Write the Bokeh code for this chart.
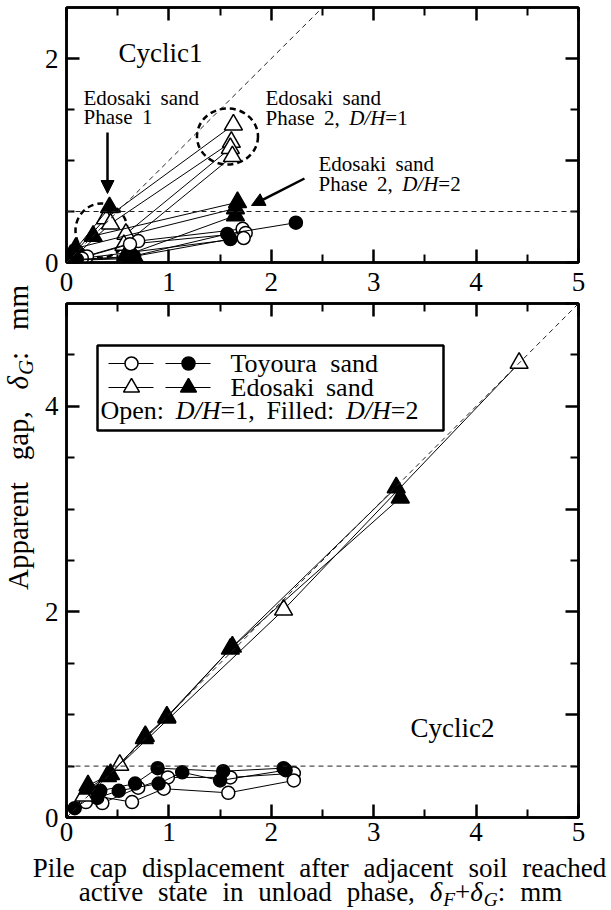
import math

from bokeh.plotting import figure
from bokeh.layouts import row, column
from bokeh.models import (Range1d, FixedTicker, LinearAxis, CustomJSTickFormatter,
                          Slope, Span, Arrow, NormalHead, BoxAnnotation, Label)
from bokeh.embed import file_html
from bokeh.resources import INLINE

# ---------------------------------------------------------------- data
# Cyclic1: one inner list per test (phase-1 points, then the phase-2 point)
c1_toyoura_d1_x = [[0.08, 0.70, 1.72], [0.20, 0.62, 1.75], [0.15, 1.73]]
c1_toyoura_d1_y = [[0.03, 0.21, 0.33], [0.06, 0.18, 0.29], [0.04, 0.24]]
c1_toyoura_d2_x = [[0.04, 0.60, 1.57, 2.24], [0.10, 0.66, 1.60]]
c1_toyoura_d2_y = [[0.02, 0.05, 0.28, 0.39], [0.03, 0.06, 0.23]]
c1_edosaki_d1_x = [[0.02, 0.38, 1.63], [0.06, 0.43, 1.61], [0.58, 1.60], [0.56, 1.62]]
c1_edosaki_d1_y = [[0.03, 0.43, 1.35], [0.04, 0.38, 1.18], [0.28, 1.12], [0.17, 1.04]]
c1_edosaki_d2_x = [[0.09, 1.65], [0.26, 1.67], [0.58, 1.65], [0.04, 0.42], [0.04, 0.67]]
c1_edosaki_d2_y = [[0.14, 0.53], [0.26, 0.59], [0.07, 0.46], [0.07, 0.54], [0.02, 0.04]]

# Cyclic2
c2_toyoura_d1_x = [[0.19, 0.35, 0.70, 0.99, 1.60, 2.22], [0.28, 0.64, 0.95, 1.58, 2.22]]
c2_toyoura_d1_y = [[0.15, 0.14, 0.29, 0.39, 0.39, 0.43], [0.21, 0.15, 0.28, 0.24, 0.36]]
c2_toyoura_d2_x = [[0.08, 0.33, 0.67, 0.89, 1.53, 2.12], [0.30, 0.51, 0.90, 1.13, 1.50, 2.14]]
c2_toyoura_d2_y = [[0.09, 0.26, 0.33, 0.48, 0.45, 0.48], [0.19, 0.26, 0.33, 0.44, 0.36, 0.46]]
c2_edosaki_d1_x = [[0.17, 0.52, 2.12, 4.42]]
c2_edosaki_d1_y = [[0.21, 0.51, 2.02, 4.42]]
c2_edosaki_d2_x = [[0.21, 0.43, 0.77, 0.98, 1.62, 3.22], [0.21, 0.40, 0.76, 0.98, 1.60, 3.26]]
c2_edosaki_d2_y = [[0.31, 0.42, 0.79, 0.98, 1.66, 3.21], [0.28, 0.40, 0.77, 0.97, 1.64, 3.11]]

x_ticks = [0, 1, 2, 3, 4, 5]
x_minor = [0.5, 1.5, 2.5, 3.5, 4.5]
y1_labels = [0, 2]
y1_minor = [0.5, 1, 1.5]
y2_labels = [0, 2, 4]
y2_minor = [0.5, 1, 1.5, 2.5, 3, 3.5, 4.5]
y2_ticks = [0, 1, 2, 3, 4, 5]
gap_limit = 0.5

# ---------------------------------------------------------------- layout
FONT = "Liberation Serif"
W_TOTAL, H_TOTAL = 611, 910
YLAB_W = 40
FL, FR = 66, 578                 # frame left / right (page px)
TOP_T, TOP_B = 7, 262            # upper panel frame
BOT_T, BOT_B = 303, 817          # lower panel frame
TOP_FIG_H = 300
BOT_FIG_H = 553
XLAB_H = H_TOTAL - TOP_FIG_H - BOT_FIG_H
XLAB_T = TOP_FIG_H + BOT_FIG_H

TICK_SIZE = 27
TEXT_SIZE = 27
NOTE_SIZE = 21
LEG_SIZE = 26


def top_xy(px, py):
    return (px - FL) / (FR - FL) * 5.0, (TOP_B - py) / (TOP_B - TOP_T) * 2.5


def bot_xy(px, py):
    return (px - FL) / (FR - FL) * 5.0, (BOT_B - py) / (BOT_B - BOT_T) * 5.0


# Times-compatible advance widths (1/1000 em)
W_REG = {' ': 250, ',': 250, ':': 278, '=': 564, '+': 564, '.': 250,
         'A': 722, 'C': 667, 'D': 722, 'E': 611, 'F': 556, 'G': 722, 'H': 722,
         'O': 722, 'P': 556, 'T': 611,
         'a': 444, 'b': 500, 'c': 444, 'd': 500, 'e': 444, 'f': 333, 'g': 500,
         'h': 500, 'i': 278, 'j': 278, 'k': 500, 'l': 278, 'm': 778, 'n': 500,
         'o': 500, 'p': 500, 'r': 333, 's': 389, 't': 278, 'u': 500, 'v': 500,
         'w': 722, 'x': 500, 'y': 500}
W_IT = {'D': 722, '/': 278, 'H': 722, 'F': 611, 'G': 722, 'δ': 500}


def text_width(s, italic):
    table = W_IT if italic else W_REG
    return sum(table.get(ch, 500) for ch in s) / 1000.0


def layout_runs(runs, size, gap):
    items, x = [], 0.0
    for txt, italic, scale, dy in runs:
        parts = txt.split(" ")
        for i, part in enumerate(parts):
            if i > 0:
                x += gap * size
            if part:
                items.append((x, part, italic, scale, dy))
                x += text_width(part, italic) * size * scale
    return items, x


def draw_rich(fig, conv, px, py, runs, size, gap=0.45, anchor="left", angle=0.0):
    """Place one line of mixed regular/italic/subscript runs; (px, py) is the
    start (or centre) of the line at mid-height, in page pixels."""
    items, total = layout_runs(runs, size, gap)
    start = -total / 2.0 if anchor == "center" else 0.0
    ca, sa = math.cos(angle), math.sin(angle)
    for off, part, italic, scale, dy in items:
        d = start + off
        sx = px + d * ca + dy * size * sa
        sy = py - d * sa + dy * size * ca
        x, y = conv(sx, sy)
        fig.add_layout(Label(x=x, y=y, text=part, angle=angle,
                             text_font=FONT, text_font_size=f"{size * scale:.1f}px",
                             text_font_style="italic" if italic else "normal",
                             text_align="left", text_baseline="middle",
                             text_color="black"))


def R(t):
    return (t, False, 1.0, 0.0)


def I(t):
    return (t, True, 1.0, 0.0)


def SUB(t):
    return (t, True, 0.72, 0.30)


blank_fmt = CustomJSTickFormatter(code="return '';")


def style_axis(ax, show_labels=True, standoff=10):
    ax.axis_line_width = 2.5
    ax.axis_line_color = "black"
    ax.major_tick_in = 13
    ax.major_tick_out = 0
    ax.minor_tick_in = 8
    ax.minor_tick_out = 0
    ax.major_tick_line_width = 2.5
    ax.minor_tick_line_width = 2
    ax.major_tick_line_color = "black"
    ax.minor_tick_line_color = "black"
    ax.major_label_text_font = FONT
    ax.major_label_text_color = "black"
    ax.major_label_text_font_size = f"{TICK_SIZE}px"
    if show_labels:
        ax.major_label_standoff = standoff
    else:
        ax.formatter = blank_fmt
        ax.major_label_standoff = 0
    ax.axis_label = None


def make_panel(height, ymax, y_labels, y_minor, y_all, border_top, border_bottom,
               x_standoff):
    p = figure(width=W_TOTAL - YLAB_W, height=height,
               x_range=Range1d(0, 5), y_range=Range1d(0, ymax),
               output_backend="svg", toolbar_location=None, tools="",
               min_border_left=FL - YLAB_W, min_border_right=W_TOTAL - FR,
               min_border_top=border_top, min_border_bottom=border_bottom)
    p.grid.visible = False
    p.outline_line_color = "black"
    p.outline_line_width = 2.5
    p.background_fill_color = "white"
    p.border_fill_color = "white"
    p.xaxis.ticker = FixedTicker(ticks=x_ticks, minor_ticks=x_minor)
    p.yaxis.ticker = FixedTicker(ticks=y_labels, minor_ticks=y_minor)
    style_axis(p.xaxis[0], True, x_standoff)
    style_axis(p.yaxis[0], True, 8)
    top_ax = LinearAxis(ticker=FixedTicker(ticks=x_ticks, minor_ticks=x_minor))
    right_ax = LinearAxis(ticker=FixedTicker(ticks=y_all, minor_ticks=[t + 0.5 for t in y_all[:-1]]))
    style_axis(top_ax, False)
    style_axis(right_ax, False)
    p.add_layout(top_ax, "above")
    p.add_layout(right_ax, "right")
    # reference lines: 1:1 line and the 0.5 mm level
    p.add_layout(Slope(gradient=1, y_intercept=0, line_color="#222222",
                       line_width=1, line_dash="5 4"))
    p.add_layout(Span(location=gap_limit, dimension="width", line_color="#222222",
                      line_width=1, line_dash="5 4"))
    return p


def draw_series(p, xs, ys, marker, filled):
    p.multi_line(xs, ys, line_color="black", line_width=1)
    flat_x = [v for s in xs for v in s]
    flat_y = [v for s in ys for v in s]
    size = 13 if marker == "circle" else 18
    p.scatter(flat_x, flat_y, marker=marker, size=size,
              fill_color="black" if filled else "white",
              line_color="black", line_width=1.5)


# ---------------------------------------------------------------- upper panel
top = make_panel(TOP_FIG_H, 2.5, y1_labels, y1_minor, [0, 1, 2],
                 TOP_T, TOP_FIG_H - TOP_B, 10)

# dashed circles around the Edosaki groups
cx1, cy1 = top_xy(101, 230)
cx2, cy2 = top_xy(227, 136)
sx = 5.0 / (FR - FL)
sy = 2.5 / (TOP_B - TOP_T)
top.ellipse(x=[cx1, cx2], y=[cy1, cy2], width=[52 * sx, 61 * sx],
            height=[54 * sy, 56 * sy], fill_color=None, line_color="black",
            line_width=2.5, line_dash="6 4")

draw_series(top, c1_edosaki_d1_x, c1_edosaki_d1_y, "triangle", False)
draw_series(top, c1_edosaki_d2_x, c1_edosaki_d2_y, "triangle", True)
draw_series(top, c1_toyoura_d1_x, c1_toyoura_d1_y, "circle", False)
draw_series(top, c1_toyoura_d2_x, c1_toyoura_d2_y, "circle", True)

ax0, ay0 = top_xy(107, 132)
ax1, ay1 = top_xy(107, 193)
top.add_layout(Arrow(end=NormalHead(size=13, fill_color="black", line_color="black"),
                     x_start=ax0, y_start=ay0, x_end=ax1, y_end=ay1,
                     line_width=2.5, line_color="black"))
bx0, by0 = top_xy(304, 178)
bx1, by1 = top_xy(251, 205)
top.add_layout(Arrow(end=NormalHead(size=13, fill_color="black", line_color="black"),
                     x_start=bx0, y_start=by0, x_end=bx1, y_end=by1,
                     line_width=2.5, line_color="black"))

draw_rich(top, top_xy, 118, 52, [R("Cyclic1")], TEXT_SIZE)
draw_rich(top, top_xy, 83, 97, [R("Edosaki sand")], NOTE_SIZE)
draw_rich(top, top_xy, 83, 116, [R("Phase 1")], NOTE_SIZE)
draw_rich(top, top_xy, 265, 97, [R("Edosaki sand")], NOTE_SIZE)
draw_rich(top, top_xy, 265, 117, [R("Phase 2, "), I("D/H"), R("=1")], NOTE_SIZE)
draw_rich(top, top_xy, 318, 163, [R("Edosaki sand")], NOTE_SIZE)
draw_rich(top, top_xy, 318, 183, [R("Phase 2, "), I("D/H"), R("=2")], NOTE_SIZE)

# ---------------------------------------------------------------- lower panel
bot = make_panel(BOT_FIG_H, 5.0, y2_labels, y2_minor, y2_ticks,
                 BOT_T - TOP_FIG_H, XLAB_T - BOT_B, 5)

# legend box
lx0, ly0 = bot_xy(97, 345)
lx1, ly1 = bot_xy(443, 430)
bot.add_layout(BoxAnnotation(left=lx0, right=lx1, top=ly0, bottom=ly1,
                             fill_color="white", fill_alpha=1.0,
                             line_color="black", line_alpha=1.0, line_width=2.5,
                             level="underlay"))

draw_series(bot, c2_toyoura_d1_x, c2_toyoura_d1_y, "circle", False)
draw_series(bot, c2_toyoura_d2_x, c2_toyoura_d2_y, "circle", True)
draw_series(bot, c2_edosaki_d1_x, c2_edosaki_d1_y, "triangle", False)
draw_series(bot, c2_edosaki_d2_x, c2_edosaki_d2_y, "triangle", True)

# legend samples
for row_py, marker, msize in ((363, "circle", 13), (387, "triangle", 16)):
    for (sx0, sx1, mpx), filled in (((108, 153, 131), False), ((165, 210, 188), True)):
        xa, ya = bot_xy(sx0, row_py)
        xb, _ = bot_xy(sx1, row_py)
        xm, _ = bot_xy(mpx, row_py)
        bot.line([xa, xb], [ya, ya], line_color="black", line_width=1)
        bot.scatter([xm], [ya], marker=marker, size=msize,
                    fill_color="black" if filled else "white",
                    line_color="black", line_width=1.5)

draw_rich(bot, bot_xy, 230, 363, [R("Toyoura sand")], LEG_SIZE)
draw_rich(bot, bot_xy, 230, 387, [R("Edosaki sand")], LEG_SIZE)
draw_rich(bot, bot_xy, 100, 410,
          [R("Open: "), I("D/H"), R("=1, Filled: "), I("D/H"), R("=2")], LEG_SIZE)
draw_rich(bot, bot_xy, 410, 727, [R("Cyclic2")], TEXT_SIZE)


# ---------------------------------------------------------------- axis titles
def blank_fig(w, h, xr, yr):
    f = figure(width=w, height=h, x_range=xr, y_range=yr, output_backend="svg",
               toolbar_location=None, tools="", x_axis_location=None,
               y_axis_location=None, min_border=0)
    f.grid.visible = False
    f.outline_line_color = None
    f.background_fill_color = "white"
    f.border_fill_color = "white"
    return f


ylab = blank_fig(YLAB_W, XLAB_T, Range1d(0, YLAB_W), Range1d(0, XLAB_T))
draw_rich(ylab, lambda px, py: (px, XLAB_T - py), 17, 437,
          [R("Apparent gap, "), I("δ"), SUB("G"), R(": mm")], 29, gap=0.75,
          anchor="center", angle=math.pi / 2)

# full-width strip below both panels: data coordinates equal page pixels
xlab = blank_fig(W_TOTAL, XLAB_H, Range1d(0, W_TOTAL), Range1d(0, XLAB_H))
xconv = lambda px, py: (px, H_TOTAL - py)
draw_rich(xlab, xconv, 319, 867,
          [R("Pile cap displacement after adjacent soil reached")], TEXT_SIZE,
          gap=0.55, anchor="center")
draw_rich(xlab, xconv, 320, 891,
          [R("active state in unload phase, "), I("δ"), SUB("F"), R("+"), I("δ"),
           SUB("G"), R(": mm")], TEXT_SIZE, gap=0.55, anchor="center")

layout = column(row(ylab, column(top, bot)), xlab)
open("out.html", "w").write(file_html(layout, INLINE))
